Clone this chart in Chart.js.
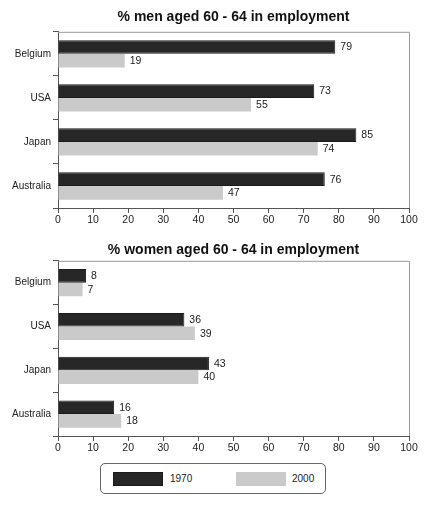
<!DOCTYPE html>
<html>
<head>
<meta charset="utf-8">
<script src="https://cdn.jsdelivr.net/npm/chart.js@4.4.0/dist/chart.umd.min.js"></script>
<style>
  html,body{margin:0;padding:0;background:#fff;}
  body{width:443px;height:512px;position:relative;overflow:hidden;font-family:"Liberation Sans",Arial,sans-serif;}
  #c1{position:absolute;left:0;top:0;}
  #c2{position:absolute;left:0;top:230px;}
  #legend{position:absolute;left:100px;top:463px;width:224px;height:29px;border:1px solid #666;border-radius:5px;box-sizing:content-box;}
  .sw{position:absolute;top:8px;width:50px;height:14px;}
  .lt{position:absolute;top:8px;font-size:10px;line-height:14px;color:#222;}
</style>
</head>
<body>
<canvas id="c1" width="443" height="230"></canvas>
<canvas id="c2" width="443" height="228"></canvas>
<div id="legend"></div>
<script>
const categories = ["Belgium", "USA", "Japan", "Australia"];
const seriesNames = ["1970", "2000"];
const men1970 = [79, 73, 85, 76];
const men2000 = [19, 55, 74, 47];
const women1970 = [8, 36, 43, 16];
const women2000 = [7, 39, 40, 18];
const xTicks = [0, 10, 20, 30, 40, 50, 60, 70, 80, 90, 100];
const titles = ["% men aged 60 - 64 in employment", "% women aged 60 - 64 in employment"];
const colors = ["#272727", "#cacaca"];
const FONT = "'Liberation Sans', Arial, sans-serif";

const valuePlugin = {
  id: 'vals',
  afterDatasetsDraw(chart) {
    const ctx = chart.ctx;
    ctx.save();
    ctx.font = "10.5px " + FONT;
    ctx.fillStyle = "#222";
    ctx.textAlign = "left";
    ctx.textBaseline = "middle";
    chart.data.datasets.forEach((ds, i) => {
      chart.getDatasetMeta(i).data.forEach((bar, j) => {
        ctx.fillText(String(ds.data[j]), bar.x + 5, bar.y + 0.5);
      });
    });
    ctx.restore();
  },
  afterDraw(chart) {
    const a = chart.chartArea, ctx = chart.ctx;
    ctx.save();
    ctx.strokeStyle = "#9a9a9a";
    ctx.lineWidth = 1;
    ctx.beginPath();
    ctx.moveTo(a.left, a.top + 0.5);
    ctx.lineTo(a.right + 0.5, a.top + 0.5);
    ctx.lineTo(a.right + 0.5, a.bottom);
    ctx.stroke();
    ctx.restore();
  }
};

function makeChart(id, title, d1, d2, titlePadTop, titlePadBottom) {
  return new Chart(document.getElementById(id), {
    type: 'bar',
    data: {
      labels: categories,
      datasets: [
        { label: seriesNames[0], data: d1, backgroundColor: colors[0], borderColor: "#1a1a1a", borderWidth: 1 },
        { label: seriesNames[1], data: d2, backgroundColor: colors[1], borderWidth: 0 }
      ]
    },
    options: {
      indexAxis: 'y',
      responsive: false,
      animation: false,
      events: [],
      layout: { padding: { left: 0, right: 34, top: 0, bottom: 0 } },
      datasets: { bar: { barPercentage: 1.0, categoryPercentage: 0.62 } },
      plugins: {
        legend: { display: false },
        tooltip: { enabled: false },
        title: {
          display: true, text: title, color: "#111", fullSize: false,
          font: { family: FONT, size: 14, weight: 'bold' },
          padding: { top: titlePadTop, bottom: titlePadBottom }
        }
      },
      scales: {
        x: {
          min: 0, max: 100,
          afterBuildTicks(scale) { scale.ticks = xTicks.map(v => ({ value: v })); },
          afterFit(scale) { scale.height = 22; },
          grid: { display: true, drawOnChartArea: false, drawTicks: true, tickLength: 5, color: "#555" },
          border: { display: true, color: "#555", width: 1 },
          ticks: { color: "#222", font: { family: FONT, size: 10.5 }, padding: 1, maxRotation: 0 }
        },
        y: {
          afterFit(scale) { scale.width = 58; },
          grid: { display: true, drawOnChartArea: false, drawTicks: true, tickLength: 5, color: "#555", offset: true },
          border: { display: true, color: "#555", width: 1 },
          ticks: { color: "#222", font: { family: FONT, size: 10 }, padding: 2 }
        }
      }
    },
    plugins: [valuePlugin]
  });
}

makeChart('c1', titles[0], men1970, men2000, 9, 6);
makeChart('c2', titles[1], women1970, women2000, 12, 2);

// legend built from series names / colors
const lg = document.getElementById('legend');
const pos = [[12, 69], [135, 191]];
seriesNames.forEach((n, i) => {
  const s = document.createElement('div');
  s.className = 'sw';
  s.style.left = pos[i][0] + 'px';
  s.style.background = colors[i];
  if (i === 0) { s.style.border = '1px solid #1a1a1a'; s.style.boxSizing = 'border-box'; }
  lg.appendChild(s);
  const t = document.createElement('div');
  t.className = 'lt';
  t.style.left = pos[i][1] + 'px';
  t.textContent = n;
  lg.appendChild(t);
});
</script>
</body>
</html>
